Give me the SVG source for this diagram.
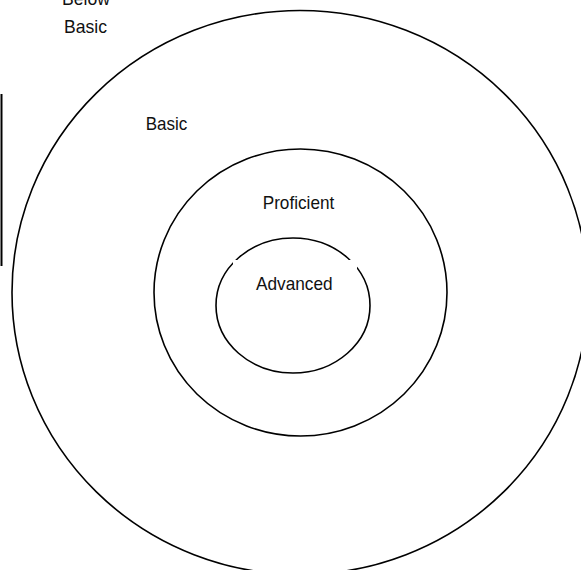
<svg xmlns="http://www.w3.org/2000/svg" width="581" height="570" viewBox="0 0 581 570">
  <style>
    .ring { fill: none; stroke: #000; stroke-width: 1.6; }
    .lbl { font-family: "Liberation Sans", Arial, sans-serif; font-size: 19px; fill: #111; text-anchor: middle; }
  </style>
  <rect x="0" y="0" width="581" height="570" fill="#fff"/>
  <g id="below-basic">
    <text class="lbl" x="86" y="5" textLength="48" lengthAdjust="spacingAndGlyphs">Below</text>
    <text class="lbl" x="85.5" y="33" textLength="43" lengthAdjust="spacingAndGlyphs">Basic</text>
  </g>
  <g id="basic">
    <ellipse class="ring" cx="300" cy="292.5" rx="288" ry="282"/>
    <text class="lbl" x="166.5" y="129.5" textLength="41.6" lengthAdjust="spacingAndGlyphs">Basic</text>
  </g>
  <g id="proficient">
    <ellipse class="ring" cx="300.5" cy="292.5" rx="146.5" ry="143.5"/>
    <text class="lbl" x="298.5" y="209" textLength="71.6" lengthAdjust="spacingAndGlyphs">Proficient</text>
  </g>
  <g id="advanced">
    <ellipse class="ring" cx="293" cy="305.5" rx="77" ry="67.5"/>
    <rect x="233" y="260" width="124" height="38" fill="#fff"/>
    <text class="lbl" x="294.3" y="290" textLength="76.7" lengthAdjust="spacingAndGlyphs">Advanced</text>
  </g>
  <g id="connectors">
    <line x1="1.5" y1="94" x2="1.5" y2="266" stroke="#000" stroke-width="2"/>
  </g>
</svg>
